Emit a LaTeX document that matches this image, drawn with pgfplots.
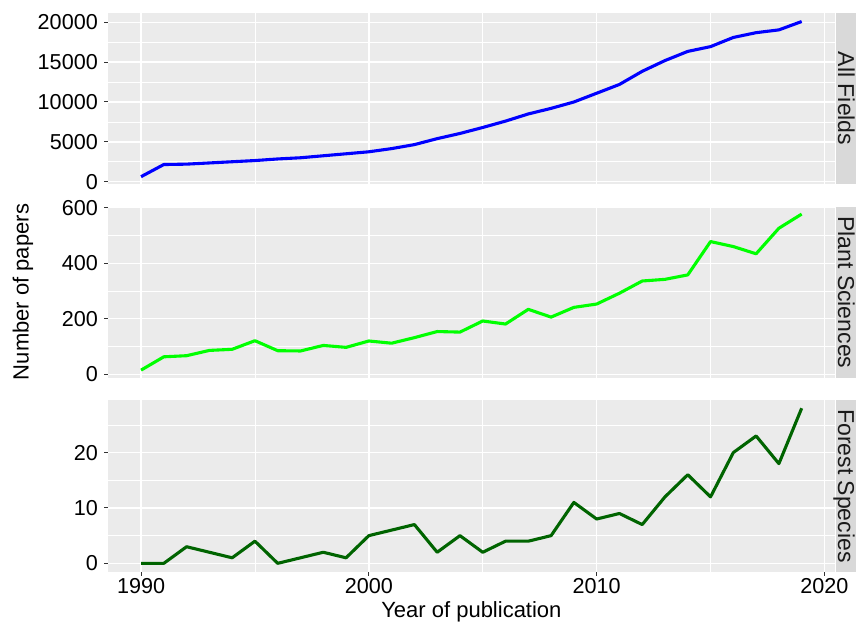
\documentclass[border=0pt]{standalone}
\usepackage{pgfplots}
\pgfplotsset{compat=1.18}
\usepackage{fontspec}
\setmainfont{Liberation Sans}
\definecolor{panelbg}{HTML}{EBEBEB}
\definecolor{stripbg}{HTML}{D9D9D9}
\definecolor{tickcol}{HTML}{333333}
\definecolor{striptext}{HTML}{1A1A1A}
\definecolor{dgreen}{HTML}{006400}

\pgfplotstableread{
year all plant forest
1990 625 15 0
1991 2150 63 0
1992 2200 67 3
1993 2350 86 2
1994 2500 90 1
1995 2650 121 4
1996 2850 85 0
1997 3000 84 1
1998 3250 104 2
1999 3500 97 1
2000 3750 120 5
2001 4150 112 6
2002 4650 132 7
2003 5400 154 2
2004 6050 152 5
2005 6800 192 2
2006 7600 181 4
2007 8500 234 4
2008 9200 206 5
2009 10000 241 11
2010 11100 253 8
2011 12200 292 9
2012 13850 336 7
2013 15200 342 12
2014 16350 358 16
2015 16950 478 12
2016 18100 460 20
2017 18700 434 23
2018 19050 526 18
2019 20100 577 28
}\datatable

\pgfplotsset{
 facet/.style={
  scale only axis, width=726.7bp, height=171.3bp,
  anchor=south west,
  xmin=1988.55, xmax=2020.45,
  axis background/.style={fill=panelbg},
  axis line style={draw=none},
  xtick={1990,2000,2010,2020},
  minor xtick={1995,2005,2015},
  grid=both,
  major grid style={white, line width=1.4bp},
  minor grid style={white, line width=0.7bp},
  tick align=outside,
  tick pos=left,
  major tick length=4bp, minor tick length=0pt,
  tick style={tickcol, line width=1bp},
  /pgf/number format/assume math mode=true,
  /pgf/number format/set thousands separator={},
  scaled ticks=false,
  ticklabel style={font=\fontsize{21.6bp}{26bp}\selectfont, text=black},
  yticklabel style={anchor=east, inner sep=0pt, xshift=-6bp},
  xticklabel style={anchor=north, inner sep=0pt, yshift=-3bp},
 },
 noxlabels/.style={xticklabels={}, xmajorticks=false},
 dline/.style={line width=3.1bp, line join=round, no markers},
}

\begin{document}
\begin{tikzpicture}
\useasboundingbox (0,0) rectangle (856bp,626bp);

\begin{axis}[facet, noxlabels, at={(108bp,441.7bp)},
  ymin=-330, ymax=21170,
  ytick={0,5000,10000,15000,20000},
  minor ytick={2500,7500,12500,17500}]
\addplot[dline, color=blue] table[x=year, y=all] {\datatable};
\end{axis}

\begin{axis}[facet, noxlabels, at={(108bp,248bp)},
  ymin=-13.3, ymax=603.6,
  ytick={0,200,400,600},
  minor ytick={100,300,500}]
\addplot[dline, color=green] table[x=year, y=plant] {\datatable};
\end{axis}

\begin{axis}[facet, at={(108bp,54.3bp)},
  ymin=-1.51, ymax=29.42,
  ytick={0,10,20},
  minor ytick={5,15,25}]
\addplot[dline, color=dgreen] table[x=year, y=forest] {\datatable};
\end{axis}

% facet strips
\fill[stripbg] (835.5bp,441.7bp) rectangle (900bp,613bp);
\fill[stripbg] (835.5bp,248bp) rectangle (900bp,419.3bp);
\fill[stripbg] (835.5bp,54.3bp) rectangle (900bp,225.6bp);
\begin{scope}[every node/.style={rotate=-90, anchor=base, inner sep=0pt, text=striptext, font=\fontsize{23bp}{28bp}\selectfont}]
\node at (838bp,527.4bp) {All Fields};
\node at (838bp,333.7bp) {Plant Sciences};
\node at (838bp,140bp) {Forest Species};
\end{scope}

% axis titles
\node[rotate=90, font=\fontsize{22bp}{26bp}\selectfont] at (23bp,334bp) {Number of papers};
\node[anchor=base, inner sep=0pt, font=\fontsize{22bp}{26bp}\selectfont] at (471.4bp,8.6bp) {Year of publication};
\end{tikzpicture}
\end{document}
